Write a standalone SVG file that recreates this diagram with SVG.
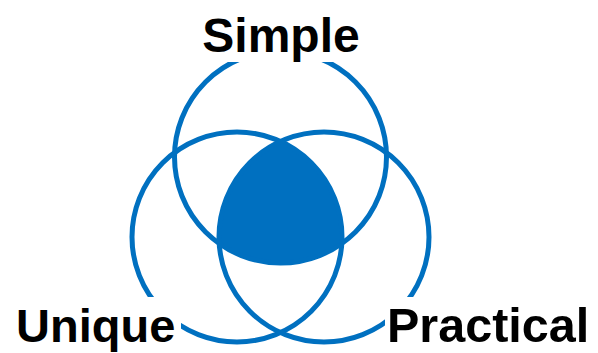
<svg xmlns="http://www.w3.org/2000/svg" width="598" height="353" viewBox="0 0 598 353">
  <style>
    .ring { fill: none; stroke: #0070C0; stroke-width: 5; }
    .core { fill: #0070C0; }
    .mask { fill: #FFFFFF; }
    .label { font-family: "Liberation Sans", Arial, sans-serif; font-weight: bold; fill: #000000; }
  </style>
  <defs>
    <clipPath id="clipLeft"><circle cx="237" cy="237" r="105"/></clipPath>
    <clipPath id="clipRight"><circle cx="324" cy="237" r="105"/></clipPath>
  </defs>
  <rect x="0" y="0" width="598" height="353" fill="#FFFFFF"/>
  <g id="intersection">
    <g clip-path="url(#clipLeft)">
      <g clip-path="url(#clipRight)">
        <circle class="core" cx="280.5" cy="157" r="106"/>
      </g>
    </g>
  </g>
  <g id="simple">
    <circle class="ring" cx="280.5" cy="157" r="106"/>
  </g>
  <g id="unique">
    <circle class="ring" cx="237" cy="237" r="105"/>
  </g>
  <g id="practical">
    <circle class="ring" cx="324" cy="237" r="105"/>
  </g>
  <g id="labels">
    <rect class="mask" x="195" y="8" width="172" height="54"/>
    <text class="label" x="281" y="52" font-size="48" text-anchor="middle">Simple</text>
    <rect class="mask" x="8" y="297" width="173" height="56"/>
    <text class="label" x="16" y="342" font-size="47">Unique</text>
    <rect class="mask" x="385" y="297" width="213" height="56"/>
    <text class="label" x="387" y="342" font-size="48.5">Practical</text>
  </g>
  <g id="connectors"/>
</svg>
